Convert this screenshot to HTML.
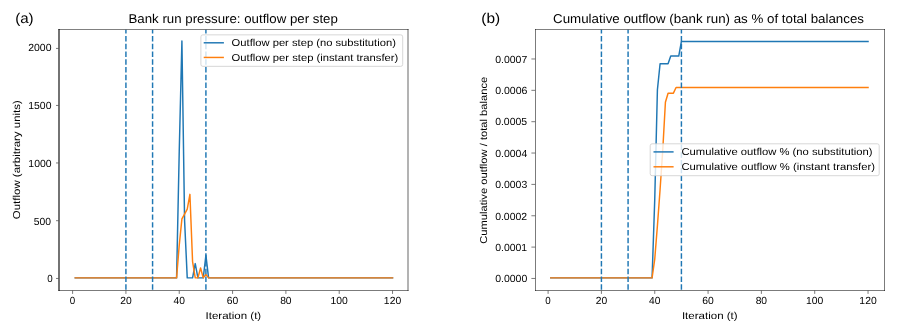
<!DOCTYPE html>
<html><head><meta charset="utf-8"><title>Bank run pressure</title>
<style>
html,body{margin:0;padding:0;background:#fff;}
body{width:897px;height:334px;overflow:hidden;}
svg{display:block;}
text{font-family:"Liberation Sans", sans-serif;text-rendering:geometricPrecision;fill:#000;}
</style></head>
<body>
<svg width="897" height="334" viewBox="0 0 897 334" style="will-change:transform">
<rect width="897" height="334" fill="#fff"/>
<polyline points="75.26,277.86 77.93,277.86 80.60,277.86 83.26,277.86 85.93,277.86 88.59,277.86 91.26,277.86 93.93,277.86 96.59,277.86 99.26,277.86 101.93,277.86 104.59,277.86 107.26,277.86 109.92,277.86 112.59,277.86 115.26,277.86 117.92,277.86 120.59,277.86 123.25,277.86 125.92,277.86 128.59,277.86 131.25,277.86 133.92,277.86 136.59,277.86 139.25,277.86 141.92,277.86 144.58,277.86 147.25,277.86 149.92,277.86 152.58,277.86 155.25,277.86 157.91,277.86 160.58,277.86 163.25,277.86 165.91,277.86 168.58,277.86 171.25,277.86 173.91,277.86 176.58,277.86 179.24,151.34 181.91,41.04 184.58,220.35 187.24,277.86 189.91,277.86 192.57,277.86 195.24,263.60 197.91,277.86 200.57,277.86 203.24,277.86 205.91,255.32 208.57,277.86 211.24,277.86 213.90,277.86 216.57,277.86 219.24,277.86 221.90,277.86 224.57,277.86 227.23,277.86 229.90,277.86 232.57,277.86 235.23,277.86 237.90,277.86 240.57,277.86 243.23,277.86 245.90,277.86 248.56,277.86 251.23,277.86 253.90,277.86 256.56,277.86 259.23,277.86 261.89,277.86 264.56,277.86 267.23,277.86 269.89,277.86 272.56,277.86 275.23,277.86 277.89,277.86 280.56,277.86 283.22,277.86 285.89,277.86 288.56,277.86 291.22,277.86 293.89,277.86 296.55,277.86 299.22,277.86 301.89,277.86 304.55,277.86 307.22,277.86 309.89,277.86 312.55,277.86 315.22,277.86 317.88,277.86 320.55,277.86 323.22,277.86 325.88,277.86 328.55,277.86 331.21,277.86 333.88,277.86 336.55,277.86 339.21,277.86 341.88,277.86 344.55,277.86 347.21,277.86 349.88,277.86 352.54,277.86 355.21,277.86 357.88,277.86 360.54,277.86 363.21,277.86 365.87,277.86 368.54,277.86 371.21,277.86 373.87,277.86 376.54,277.86 379.21,277.86 381.87,277.86 384.54,277.86 387.20,277.86 389.87,277.86 392.54,277.86" fill="none" stroke="#1f77b4" stroke-width="1.46" stroke-linejoin="round" stroke-linecap="square"/>
<polyline points="75.26,277.86 77.93,277.86 80.60,277.86 83.26,277.86 85.93,277.86 88.59,277.86 91.26,277.86 93.93,277.86 96.59,277.86 99.26,277.86 101.93,277.86 104.59,277.86 107.26,277.86 109.92,277.86 112.59,277.86 115.26,277.86 117.92,277.86 120.59,277.86 123.25,277.86 125.92,277.86 128.59,277.86 131.25,277.86 133.92,277.86 136.59,277.86 139.25,277.86 141.92,277.86 144.58,277.86 147.25,277.86 149.92,277.86 152.58,277.86 155.25,277.86 157.91,277.86 160.58,277.86 163.25,277.86 165.91,277.86 168.58,277.86 171.25,277.86 173.91,277.86 176.58,277.86 179.24,245.08 181.91,218.86 184.58,214.03 187.24,209.19 189.91,194.36 192.57,261.53 195.24,277.86 197.91,277.86 200.57,267.97 203.24,277.86 205.91,274.41 208.57,277.86 211.24,277.86 213.90,277.86 216.57,277.86 219.24,277.86 221.90,277.86 224.57,277.86 227.23,277.86 229.90,277.86 232.57,277.86 235.23,277.86 237.90,277.86 240.57,277.86 243.23,277.86 245.90,277.86 248.56,277.86 251.23,277.86 253.90,277.86 256.56,277.86 259.23,277.86 261.89,277.86 264.56,277.86 267.23,277.86 269.89,277.86 272.56,277.86 275.23,277.86 277.89,277.86 280.56,277.86 283.22,277.86 285.89,277.86 288.56,277.86 291.22,277.86 293.89,277.86 296.55,277.86 299.22,277.86 301.89,277.86 304.55,277.86 307.22,277.86 309.89,277.86 312.55,277.86 315.22,277.86 317.88,277.86 320.55,277.86 323.22,277.86 325.88,277.86 328.55,277.86 331.21,277.86 333.88,277.86 336.55,277.86 339.21,277.86 341.88,277.86 344.55,277.86 347.21,277.86 349.88,277.86 352.54,277.86 355.21,277.86 357.88,277.86 360.54,277.86 363.21,277.86 365.87,277.86 368.54,277.86 371.21,277.86 373.87,277.86 376.54,277.86 379.21,277.86 381.87,277.86 384.54,277.86 387.20,277.86 389.87,277.86 392.54,277.86" fill="none" stroke="#ff7f0e" stroke-width="1.46" stroke-linejoin="round" stroke-linecap="square"/>
<line x1="125.92" y1="289.70" x2="125.92" y2="29.80" stroke="#1f77b4" stroke-width="1.46" stroke-dasharray="5.42,2.34"/>
<line x1="152.58" y1="289.70" x2="152.58" y2="29.80" stroke="#1f77b4" stroke-width="1.46" stroke-dasharray="5.42,2.34"/>
<line x1="205.91" y1="289.70" x2="205.91" y2="29.80" stroke="#1f77b4" stroke-width="1.46" stroke-dasharray="5.42,2.34"/>
<line x1="59.00" y1="29.50" x2="59.00" y2="290.50" stroke="#000" stroke-width="1.10" stroke-linecap="square"/>
<line x1="408.00" y1="29.50" x2="408.00" y2="290.50" stroke="#000" stroke-width="0.60" stroke-linecap="square"/>
<line x1="59.00" y1="29.50" x2="408.00" y2="29.50" stroke="#000" stroke-width="0.50" stroke-linecap="square"/>
<line x1="59.00" y1="290.50" x2="408.00" y2="290.50" stroke="#000" stroke-width="0.52" stroke-linecap="square"/>
<line x1="72.60" y1="290.30" x2="72.60" y2="293.90" stroke="#555" stroke-width="0.78"/>
<text x="69.87" y="304.30" font-size="10.30" textLength="5.45" lengthAdjust="spacingAndGlyphs">0</text>
<line x1="125.92" y1="290.30" x2="125.92" y2="293.90" stroke="#555" stroke-width="0.78"/>
<text x="120.17" y="304.30" font-size="10.30" textLength="11.46" lengthAdjust="spacingAndGlyphs">20</text>
<line x1="179.24" y1="290.30" x2="179.24" y2="293.90" stroke="#555" stroke-width="0.78"/>
<text x="173.55" y="304.30" font-size="10.30" textLength="11.40" lengthAdjust="spacingAndGlyphs">40</text>
<line x1="232.57" y1="290.30" x2="232.57" y2="293.90" stroke="#555" stroke-width="0.78"/>
<text x="226.77" y="304.30" font-size="10.30" textLength="11.50" lengthAdjust="spacingAndGlyphs">60</text>
<line x1="285.89" y1="290.30" x2="285.89" y2="293.90" stroke="#555" stroke-width="0.78"/>
<text x="280.16" y="304.30" font-size="10.30" textLength="11.44" lengthAdjust="spacingAndGlyphs">80</text>
<line x1="339.21" y1="290.30" x2="339.21" y2="293.90" stroke="#555" stroke-width="0.78"/>
<text x="330.57" y="304.30" font-size="10.30" textLength="17.31" lengthAdjust="spacingAndGlyphs">100</text>
<line x1="392.54" y1="290.30" x2="392.54" y2="293.90" stroke="#555" stroke-width="0.78"/>
<text x="383.89" y="304.30" font-size="10.30" textLength="17.31" lengthAdjust="spacingAndGlyphs">120</text>
<line x1="56.00" y1="278.46" x2="59.00" y2="278.46" stroke="#555" stroke-width="0.78"/>
<text x="47.21" y="282.31" font-size="10.30" textLength="5.45" lengthAdjust="spacingAndGlyphs">0</text>
<line x1="56.00" y1="220.70" x2="59.00" y2="220.70" stroke="#555" stroke-width="0.78"/>
<text x="33.85" y="224.70" font-size="10.30" textLength="17.24" lengthAdjust="spacingAndGlyphs">500</text>
<line x1="56.00" y1="162.96" x2="59.00" y2="162.96" stroke="#555" stroke-width="0.78"/>
<text x="28.35" y="166.69" font-size="10.30" textLength="23.24" lengthAdjust="spacingAndGlyphs">1000</text>
<line x1="56.00" y1="105.45" x2="59.00" y2="105.45" stroke="#555" stroke-width="0.78"/>
<text x="28.25" y="109.28" font-size="10.30" textLength="23.24" lengthAdjust="spacingAndGlyphs">1500</text>
<line x1="56.00" y1="48.43" x2="59.00" y2="48.43" stroke="#555" stroke-width="0.78"/>
<text x="28.18" y="50.97" font-size="10.30" textLength="23.31" lengthAdjust="spacingAndGlyphs">2000</text>
<text x="205.53" y="318.90" font-size="10.00" textLength="55.70" lengthAdjust="spacingAndGlyphs">Iteration (t)</text>
<text x="128.53" y="23.25" font-size="12.80" textLength="209.31" lengthAdjust="spacingAndGlyphs">Bank run pressure: outflow per step</text>
<g transform="translate(19.90 159.65) rotate(-90)">
<text x="-59.51" y="0.00" font-size="10.00" textLength="118.90" lengthAdjust="spacingAndGlyphs">Outflow (arbitrary units)</text>
</g>
<text x="15.15" y="23.10" font-size="14.20" textLength="18.50" lengthAdjust="spacingAndGlyphs">(a)</text>
<rect x="200.90" y="34.85" width="201.80" height="31.50" rx="1.95" ry="1.95" fill="#fff" fill-opacity="0.8" stroke="#ccc" stroke-opacity="0.8" stroke-width="0.98"/>
<line x1="203.70" y1="42.80" x2="223.90" y2="42.80" stroke="#1f77b4" stroke-width="1.46"/>
<line x1="203.70" y1="57.45" x2="223.90" y2="57.45" stroke="#ff7f0e" stroke-width="1.46"/>
<text x="231.62" y="46.20" font-size="10.00" textLength="164.27" lengthAdjust="spacingAndGlyphs">Outflow per step (no substitution)</text>
<text x="231.61" y="60.85" font-size="10.00" textLength="166.66" lengthAdjust="spacingAndGlyphs">Outflow per step (instant transfer)</text>
<polyline points="550.76,277.86 553.43,277.86 556.10,277.86 558.76,277.86 561.43,277.86 564.09,277.86 566.76,277.86 569.43,277.86 572.09,277.86 574.76,277.86 577.43,277.86 580.09,277.86 582.76,277.86 585.42,277.86 588.09,277.86 590.76,277.86 593.42,277.86 596.09,277.86 598.75,277.86 601.42,277.86 604.09,277.86 606.75,277.86 609.42,277.86 612.09,277.86 614.75,277.86 617.42,277.86 620.08,277.86 622.75,277.86 625.42,277.86 628.08,277.86 630.75,277.86 633.41,277.86 636.08,277.86 638.75,277.86 641.41,277.86 644.08,277.86 646.75,277.86 649.41,277.86 652.08,277.86 654.74,199.47 657.41,89.73 660.08,63.71 662.74,63.71 665.41,63.71 668.07,63.71 670.74,56.03 673.41,56.03 676.07,56.03 678.74,56.03 681.41,41.48 684.07,41.48 686.74,41.48 689.40,41.48 692.07,41.48 694.74,41.48 697.40,41.48 700.07,41.48 702.73,41.48 705.40,41.48 708.07,41.48 710.73,41.48 713.40,41.48 716.07,41.48 718.73,41.48 721.40,41.48 724.06,41.48 726.73,41.48 729.40,41.48 732.06,41.48 734.73,41.48 737.39,41.48 740.06,41.48 742.73,41.48 745.39,41.48 748.06,41.48 750.73,41.48 753.39,41.48 756.06,41.48 758.72,41.48 761.39,41.48 764.06,41.48 766.72,41.48 769.39,41.48 772.05,41.48 774.72,41.48 777.39,41.48 780.05,41.48 782.72,41.48 785.39,41.48 788.05,41.48 790.72,41.48 793.38,41.48 796.05,41.48 798.72,41.48 801.38,41.48 804.05,41.48 806.71,41.48 809.38,41.48 812.05,41.48 814.71,41.48 817.38,41.48 820.05,41.48 822.71,41.48 825.38,41.48 828.04,41.48 830.71,41.48 833.38,41.48 836.04,41.48 838.71,41.48 841.37,41.48 844.04,41.48 846.71,41.48 849.37,41.48 852.04,41.48 854.71,41.48 857.37,41.48 860.04,41.48 862.70,41.48 865.37,41.48 868.04,41.48" fill="none" stroke="#1f77b4" stroke-width="1.46" stroke-linejoin="round" stroke-linecap="square"/>
<polyline points="550.76,277.86 553.43,277.86 556.10,277.86 558.76,277.86 561.43,277.86 564.09,277.86 566.76,277.86 569.43,277.86 572.09,277.86 574.76,277.86 577.43,277.86 580.09,277.86 582.76,277.86 585.42,277.86 588.09,277.86 590.76,277.86 593.42,277.86 596.09,277.86 598.75,277.86 601.42,277.86 604.09,277.86 606.75,277.86 609.42,277.86 612.09,277.86 614.75,277.86 617.42,277.86 620.08,277.86 622.75,277.86 625.42,277.86 628.08,277.86 630.75,277.86 633.41,277.86 636.08,277.86 638.75,277.86 641.41,277.86 644.08,277.86 646.75,277.86 649.41,277.86 652.08,277.86 654.74,259.20 657.41,225.81 660.08,189.44 662.74,150.25 665.41,102.28 668.07,93.18 670.74,93.18 673.41,93.18 676.07,87.54 678.74,87.54 681.41,87.54 684.07,87.54 686.74,87.54 689.40,87.54 692.07,87.54 694.74,87.54 697.40,87.54 700.07,87.54 702.73,87.54 705.40,87.54 708.07,87.54 710.73,87.54 713.40,87.54 716.07,87.54 718.73,87.54 721.40,87.54 724.06,87.54 726.73,87.54 729.40,87.54 732.06,87.54 734.73,87.54 737.39,87.54 740.06,87.54 742.73,87.54 745.39,87.54 748.06,87.54 750.73,87.54 753.39,87.54 756.06,87.54 758.72,87.54 761.39,87.54 764.06,87.54 766.72,87.54 769.39,87.54 772.05,87.54 774.72,87.54 777.39,87.54 780.05,87.54 782.72,87.54 785.39,87.54 788.05,87.54 790.72,87.54 793.38,87.54 796.05,87.54 798.72,87.54 801.38,87.54 804.05,87.54 806.71,87.54 809.38,87.54 812.05,87.54 814.71,87.54 817.38,87.54 820.05,87.54 822.71,87.54 825.38,87.54 828.04,87.54 830.71,87.54 833.38,87.54 836.04,87.54 838.71,87.54 841.37,87.54 844.04,87.54 846.71,87.54 849.37,87.54 852.04,87.54 854.71,87.54 857.37,87.54 860.04,87.54 862.70,87.54 865.37,87.54 868.04,87.54" fill="none" stroke="#ff7f0e" stroke-width="1.46" stroke-linejoin="round" stroke-linecap="square"/>
<line x1="601.42" y1="289.70" x2="601.42" y2="29.80" stroke="#1f77b4" stroke-width="1.46" stroke-dasharray="5.42,2.34"/>
<line x1="628.08" y1="289.70" x2="628.08" y2="29.80" stroke="#1f77b4" stroke-width="1.46" stroke-dasharray="5.42,2.34"/>
<line x1="681.41" y1="289.70" x2="681.41" y2="29.80" stroke="#1f77b4" stroke-width="1.46" stroke-dasharray="5.42,2.34"/>
<line x1="535.50" y1="29.50" x2="535.50" y2="290.50" stroke="#000" stroke-width="0.52" stroke-linecap="square"/>
<line x1="884.50" y1="29.50" x2="884.50" y2="290.50" stroke="#000" stroke-width="0.52" stroke-linecap="square"/>
<line x1="535.50" y1="29.50" x2="884.50" y2="29.50" stroke="#000" stroke-width="0.50" stroke-linecap="square"/>
<line x1="535.50" y1="290.50" x2="884.50" y2="290.50" stroke="#000" stroke-width="0.52" stroke-linecap="square"/>
<line x1="548.10" y1="290.30" x2="548.10" y2="293.90" stroke="#555" stroke-width="0.78"/>
<text x="545.37" y="304.30" font-size="10.30" textLength="5.45" lengthAdjust="spacingAndGlyphs">0</text>
<line x1="601.42" y1="290.30" x2="601.42" y2="293.90" stroke="#555" stroke-width="0.78"/>
<text x="595.67" y="304.30" font-size="10.30" textLength="11.46" lengthAdjust="spacingAndGlyphs">20</text>
<line x1="654.74" y1="290.30" x2="654.74" y2="293.90" stroke="#555" stroke-width="0.78"/>
<text x="649.05" y="304.30" font-size="10.30" textLength="11.40" lengthAdjust="spacingAndGlyphs">40</text>
<line x1="708.07" y1="290.30" x2="708.07" y2="293.90" stroke="#555" stroke-width="0.78"/>
<text x="702.27" y="304.30" font-size="10.30" textLength="11.50" lengthAdjust="spacingAndGlyphs">60</text>
<line x1="761.39" y1="290.30" x2="761.39" y2="293.90" stroke="#555" stroke-width="0.78"/>
<text x="755.66" y="304.30" font-size="10.30" textLength="11.44" lengthAdjust="spacingAndGlyphs">80</text>
<line x1="814.71" y1="290.30" x2="814.71" y2="293.90" stroke="#555" stroke-width="0.78"/>
<text x="806.07" y="304.30" font-size="10.30" textLength="17.31" lengthAdjust="spacingAndGlyphs">100</text>
<line x1="868.04" y1="290.30" x2="868.04" y2="293.90" stroke="#555" stroke-width="0.78"/>
<text x="859.39" y="304.30" font-size="10.30" textLength="17.31" lengthAdjust="spacingAndGlyphs">120</text>
<line x1="531.40" y1="278.46" x2="535.40" y2="278.46" stroke="#555" stroke-width="0.78"/>
<text x="495.15" y="282.26" font-size="10.30" textLength="32.14" lengthAdjust="spacingAndGlyphs">0.0000</text>
<line x1="531.40" y1="247.10" x2="535.40" y2="247.10" stroke="#555" stroke-width="0.78"/>
<text x="495.16" y="250.90" font-size="10.30" textLength="32.00" lengthAdjust="spacingAndGlyphs">0.0001</text>
<line x1="531.40" y1="215.75" x2="535.40" y2="215.75" stroke="#555" stroke-width="0.78"/>
<text x="495.16" y="219.55" font-size="10.30" textLength="31.94" lengthAdjust="spacingAndGlyphs">0.0002</text>
<line x1="531.40" y1="184.40" x2="535.40" y2="184.40" stroke="#555" stroke-width="0.78"/>
<text x="495.16" y="188.20" font-size="10.30" textLength="32.06" lengthAdjust="spacingAndGlyphs">0.0003</text>
<line x1="531.40" y1="153.04" x2="535.40" y2="153.04" stroke="#555" stroke-width="0.78"/>
<text x="495.15" y="156.54" font-size="10.30" textLength="32.13" lengthAdjust="spacingAndGlyphs">0.0004</text>
<line x1="531.40" y1="121.69" x2="535.40" y2="121.69" stroke="#555" stroke-width="0.78"/>
<text x="495.16" y="125.49" font-size="10.30" textLength="31.97" lengthAdjust="spacingAndGlyphs">0.0005</text>
<line x1="531.40" y1="90.33" x2="535.40" y2="90.33" stroke="#555" stroke-width="0.78"/>
<text x="495.15" y="94.13" font-size="10.30" textLength="32.22" lengthAdjust="spacingAndGlyphs">0.0006</text>
<line x1="531.40" y1="58.98" x2="535.40" y2="58.98" stroke="#555" stroke-width="0.78"/>
<text x="495.16" y="63.08" font-size="10.30" textLength="32.08" lengthAdjust="spacingAndGlyphs">0.0007</text>
<text x="681.93" y="318.90" font-size="10.00" textLength="55.70" lengthAdjust="spacingAndGlyphs">Iteration (t)</text>
<text x="553.10" y="23.25" font-size="12.80" textLength="310.89" lengthAdjust="spacingAndGlyphs">Cumulative outflow (bank run) as % of total balances</text>
<g transform="translate(487.40 160.25) rotate(-90)">
<text x="-83.54" y="0.00" font-size="10.00" textLength="167.04" lengthAdjust="spacingAndGlyphs">Cumulative outflow / total balance</text>
</g>
<text x="481.39" y="23.10" font-size="14.20" textLength="18.83" lengthAdjust="spacingAndGlyphs">(b)</text>
<rect x="650.20" y="143.80" width="229.00" height="31.90" rx="1.95" ry="1.95" fill="#fff" fill-opacity="0.8" stroke="#ccc" stroke-opacity="0.8" stroke-width="0.98"/>
<line x1="653.50" y1="151.90" x2="673.60" y2="151.90" stroke="#1f77b4" stroke-width="1.46"/>
<line x1="653.50" y1="166.80" x2="673.60" y2="166.80" stroke="#ff7f0e" stroke-width="1.46"/>
<text x="681.48" y="155.30" font-size="10.00" textLength="191.09" lengthAdjust="spacingAndGlyphs">Cumulative outflow % (no substitution)</text>
<text x="681.48" y="170.20" font-size="10.00" textLength="193.49" lengthAdjust="spacingAndGlyphs">Cumulative outflow % (instant transfer)</text>
</svg>
</body></html>
